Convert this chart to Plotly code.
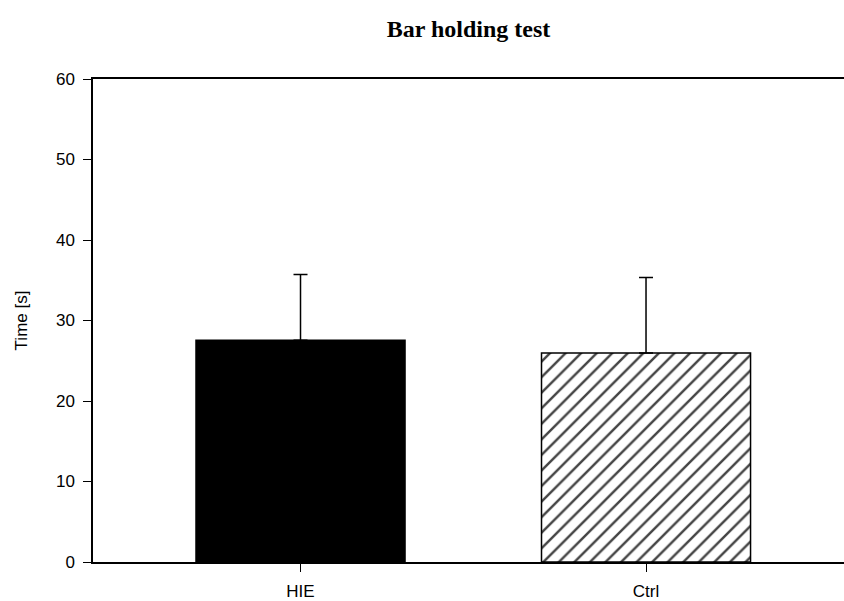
import plotly.graph_objects as go

# Bar holding test: mean time with upper SD whisker per group
groups = ["HIE", "Ctrl"]
mean_time = [27.55, 25.95]
sd_time = [8.15, 9.4]

y_ticks = [0, 10, 20, 30, 40, 50, 60]

fig = go.Figure()
fig.add_trace(go.Bar(
    x=groups,
    y=mean_time,
    width=0.605,
    marker=dict(
        color=["black", "white"],
        line=dict(color="black", width=1.5),
        pattern=dict(shape=["", "/"], fgcolor="black", fgopacity=1, size=11, solidity=0.22),
    ),
    error_y=dict(
        type="data",
        symmetric=False,
        array=sd_time,
        arrayminus=[0, 0],
        color="black",
        thickness=1.5,
        width=7,
    ),
    showlegend=False,
))

fig.update_layout(
    width=844,
    height=601,
    margin=dict(l=93, r=0, t=79, b=39, autoexpand=False),
    paper_bgcolor="white",
    plot_bgcolor="white",
    font=dict(family="Liberation Sans, Arial, sans-serif", size=17, color="black"),
    title=dict(
        text="<b>Bar holding test</b>",
        font=dict(family="Liberation Serif, Times New Roman, serif", size=24, color="black"),
        x=0.5,
        xref="paper",
        xanchor="center",
        y=1 - 29 / 601,
        yref="container",
        yanchor="middle",
    ),
    xaxis=dict(
        range=[-0.6006, 1.573],
        showline=True,
        linecolor="black",
        linewidth=1.5,
        mirror=True,
        ticks="outside",
        ticklen=8,
        tickwidth=1,
        tickcolor="black",
        ticklabelstandoff=5,
        showgrid=False,
        zeroline=False,
        automargin=False,
    ),
    yaxis=dict(
        range=[0, 60],
        tickvals=y_ticks,
        showline=True,
        linecolor="black",
        linewidth=1.5,
        ticks="outside",
        ticklen=8,
        tickwidth=1,
        tickcolor="black",
        ticklabelstandoff=5,
        showgrid=False,
        zeroline=False,
        automargin=False,
        title=dict(text="Time [s]", font=dict(size=17), standoff=24),
    ),
)

fig.write_html("out.html")
